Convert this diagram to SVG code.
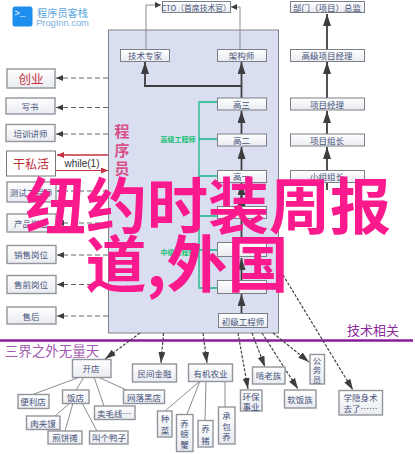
<svg xmlns="http://www.w3.org/2000/svg" width="415" height="454" viewBox="0 0 415 454">
<defs>
<linearGradient id="g" x1="0" y1="0" x2="0" y2="1"><stop offset="0" stop-color="#ffffff"/><stop offset="1" stop-color="#e9ebf0"/></linearGradient>
<marker id="a" markerUnits="userSpaceOnUse" markerWidth="13" markerHeight="9" refX="12" refY="4" orient="auto"><path d="M0 0L12 4L0 8z" fill="#3d3d3f"/></marker>
<marker id="h" markerUnits="userSpaceOnUse" markerWidth="12" markerHeight="8" refX="11" refY="3.500" orient="auto"><path d="M0 0L11 3.500L0 7z" fill="#3d3d3f"/></marker>
<marker id="s" markerUnits="userSpaceOnUse" markerWidth="7" markerHeight="7" refX="6" refY="3" orient="auto"><path d="M0 0L6 3L0 6z" fill="#3d3d3f"/></marker>
<marker id="l" markerUnits="userSpaceOnUse" markerWidth="8" markerHeight="8" refX="7" refY="3" orient="auto"><path d="M0 0L7 3L0 6z" fill="#3d3d3f"/></marker>
<marker id="r" markerUnits="userSpaceOnUse" markerWidth="8" markerHeight="8" refX="7" refY="3" orient="auto"><path d="M0 0L7 3L0 6z" fill="#c4303f"/></marker>
</defs>
<style>
text{font-family:"Noto Sans CJK SC","Liberation Sans",sans-serif;text-anchor:middle;dominant-baseline:central;fill:#47527a;font-size:8.500px}
.n rect{fill:url(#g);stroke:#7c7f86;stroke-width:1}
.b rect{stroke-width:1.400;stroke:#92959c}
.up{stroke:#3d3d3f;stroke-width:1.800;fill:none;marker-end:url(#a)}
.dl{stroke:#666;stroke-width:1;stroke-dasharray:5 3;fill:none;marker-end:url(#l)}
.dd{stroke:#444;stroke-width:1.200;stroke-dasharray:3 1.500;fill:none;marker-end:url(#h)}
.t{stroke:#8b8d90;stroke-width:1;fill:none}
.gr{stroke:#14b888;stroke-width:1.300;fill:none}
.pk{font-size:61px;fill:#fb1a8e;font-weight:700}
.v{fill:#d8508a;font-size:15px;font-weight:700}
.gl{fill:#14c070;font-size:7px;font-weight:700}
</style>
<rect id="panel" x="108.500" y="30" width="170" height="303" fill="#d9dff0" stroke="#80828a"/>
<g id="logo"><rect x="12.500" y="6.500" width="20" height="20" rx="2.500" fill="#1e8fef"/><text x="20" y="14" style="fill:#fff;font-size:9px;font-family:'Liberation Mono',monospace">&gt;_</text><text x="62.500" y="12.500" style="fill:#5aa5e0;font-size:10.200px">程序员客栈</text><text x="62.500" y="22.500" style="fill:#76aede;font-size:9.300px;font-family:'Liberation Sans',sans-serif">ProgInn.com</text></g>
<g id="connectors">
<path class="t" d="M146 49V5H161" marker-end="url(#s)" stroke="#555"/>
<path class="t" d="M240 49V7H231" marker-end="url(#s)"/>
<path class="up" d="M327 49V14"/><path class="up" d="M327 98V62"/><path class="up" d="M327 134V111"/><path class="up" d="M327 170V147"/>
<path class="up" d="M327 190V170"/>
<path class="up" d="M241 86H145V62"/>
<path class="up" d="M241.500 98V62"/><path class="up" d="M241.500 134V111"/><path class="up" d="M241.500 170V147"/>
<path class="up" d="M241.500 206V183"/><path class="up" d="M241.500 242V194"/><path class="up" d="M241.500 280V258"/><path class="up" d="M241.500 313V294"/>
<path class="gr" d="M217 102H199V288H217M199 139H217M199 176H217M199 216H217M199 250H217"/>
<path class="dl" d="M108 78H56"/><path class="dl" d="M108 107.500H56"/><path class="dl" d="M108 134H56"/>
<path d="M108 155H57" stroke="#c4303f" stroke-width="1.500" marker-end="url(#r)"/>
<path d="M56 170.500H108" stroke="#c4303f" stroke-width="1" marker-end="url(#r)"/>
<path class="dl" d="M108 191H57"/><path class="dl" d="M108 223H57"/><path class="dl" d="M108 255H57"/><path class="dl" d="M108 284.500H57"/><path class="dl" d="M108 316H57"/>
<path d="M0 340.500H413" stroke="#8a1c9c" stroke-width="2.400"/>
<path class="dd" d="M140 333L105 359"/><path class="dd" d="M163.500 333L161 363"/><path class="dd" d="M203 333L207 363"/>
<path class="dd" d="M238 333L248 389"/><path class="dd" d="M252 333L265 367"/><path class="dd" d="M262 333L298 389"/><path class="dd" d="M273 333L309 362"/><path class="dd" d="M283 275L353 390"/>
<path class="t" d="M80 377L34 394M84 377L76 390M94 377L104 406M98 377L133 393M70 403L55 416M73 403L65 431M82 403L97 431M200 381L165 411M200 381L187 414M206 381L205 420M225 381V407"/>
</g>
<g id="n1" class="n"><rect x="162.500" y="1.500" width="68" height="11"/><text x="196" y="7" style="font-size:7.800px">CTO（首席技术官）</text></g>
<g id="n2" class="n"><rect x="290.500" y="1.500" width="74" height="11"/><text x="327" y="7">部门（项目）总监</text></g>
<g id="n3" class="n"><rect x="120.500" y="49.500" width="49" height="12"/><text x="145" y="55">技术专家</text></g>
<g id="n4" class="n"><rect x="217.500" y="49.500" width="49" height="12"/><text x="241.500" y="55">架构师</text></g>
<g id="n5" class="n"><rect x="290.500" y="49.500" width="74" height="12"/><text x="327" y="55">高级项目经理</text></g>
<g id="n6" class="n"><rect x="217.500" y="98" width="49" height="12"/><text x="241.500" y="104">高三</text></g>
<g id="n7" class="n"><rect x="290.500" y="98" width="74" height="12"/><text x="327" y="104">项目经理</text></g>
<g id="n8" class="n"><rect x="217.500" y="134" width="49" height="12"/><text x="241.500" y="140">高二</text></g>
<g id="n9" class="n"><rect x="290.500" y="134" width="74" height="12"/><text x="327" y="140">项目组长</text></g>
<g id="n10" class="n"><rect x="217.500" y="170.500" width="49" height="12"/><text x="241.500" y="176">高一</text></g>
<g id="n11" class="n"><rect x="290.500" y="170.500" width="74" height="12"/><text x="327" y="176">小组组长</text></g>
<g id="n12" class="n"><rect x="217.500" y="206.500" width="49" height="12"/></g>
<g id="n13" class="n"><rect x="217.500" y="242.500" width="49" height="14"/></g>
<g id="n14" class="n"><rect x="217.500" y="280.500" width="49" height="13"/></g>
<g id="n15" class="n"><rect x="218.500" y="313.500" width="49" height="14"/><text x="243" y="320.500">初级工程师</text></g>
<g id="n16" class="n b"><rect x="7" y="69" width="48" height="19"/><text x="31" y="78" style="fill:#c83442;font-size:12.500px">创业</text></g>
<g id="n17" class="n b"><rect x="6" y="98" width="49" height="16"/><text x="30" y="106">写书</text></g>
<g id="n18" class="n b"><rect x="6" y="124.500" width="49" height="17"/><text x="30.500" y="132.500">培训讲师</text></g>
<g id="n19" class="n"><rect x="6.500" y="151" width="49" height="25" style="fill:#fff;stroke:#777"/><text x="31" y="163" style="fill:#bb2e3a;font-size:12px">干私活</text></g>
<g id="n20" class="n b"><rect x="7" y="182" width="49" height="20"/><text x="31" y="192">测试工程师</text></g>
<g id="n21" class="n b"><rect x="7" y="214" width="49" height="18"/><text x="31" y="223">产品岗位</text></g>
<g id="n22" class="n b"><rect x="7" y="245.500" width="49" height="18"/><text x="31" y="254">销售岗位</text></g>
<g id="n23" class="n b"><rect x="7" y="275.500" width="49" height="18"/><text x="31" y="284">售前岗位</text></g>
<g id="n24" class="n b"><rect x="7" y="307" width="49" height="17"/><text x="31" y="315.500">售后</text></g>
<g id="n25" class="n b"><rect x="72.500" y="359.500" width="38.500" height="18"/><text x="91" y="367.500">开店</text></g>
<g id="n26" class="n b"><rect x="18" y="394.500" width="31" height="14"/><text x="33" y="401">便利店</text></g>
<g id="n27" class="n b"><rect x="62.500" y="390" width="26.500" height="13.500"/><text x="75.500" y="396.500">饭店</text></g>
<g id="n28" class="n b"><rect x="123.500" y="390" width="41" height="13.500"/><text x="144" y="396.500">网落黑店</text></g>
<g id="n29" class="n b"><rect x="26.500" y="416" width="33.500" height="13.500"/><text x="43" y="422.500">肉夹馍</text></g>
<g id="n30" class="n b"><rect x="94.500" y="406" width="40.500" height="13.500"/><text x="114" y="412.500">卖毛线…</text></g>
<g id="n31" class="n b"><rect x="48" y="431" width="34" height="13"/><text x="65" y="437">煎饼摊</text></g>
<g id="n32" class="n b"><rect x="89.500" y="431" width="38.500" height="13"/><text x="109" y="437">叫个鸭子</text></g>
<g id="n33" class="n b"><rect x="132.500" y="364" width="44" height="18"/><text x="154.500" y="372.500">民间金融</text></g>
<g id="n34" class="n b"><rect x="188.500" y="364" width="44" height="17.500"/><text x="210.500" y="372.500">有机农业</text></g>
<g id="n35" class="n b"><rect x="157.500" y="411" width="14.500" height="26"/><text x="165" y="418">种</text><text x="165" y="430">菜</text></g>
<g id="n36" class="n b"><rect x="176.500" y="414.500" width="16.500" height="37"/><text x="184.500" y="423">养</text><text x="184.500" y="433">螃</text><text x="184.500" y="443.500">蟹</text></g>
<g id="n37" class="n b"><rect x="198" y="420.500" width="15" height="26.500"/><text x="205.500" y="428">养</text><text x="205.500" y="440">猪</text></g>
<g id="n38" class="n b"><rect x="218.500" y="407" width="16.500" height="37"/><text x="226.500" y="414.500">承</text><text x="226.500" y="425.500">包</text><text x="226.500" y="436">养</text></g>
<g id="n39" class="n b"><rect x="240.500" y="390" width="21.500" height="21"/><text x="251" y="395.500">环保</text><text x="251" y="405.500">事业</text></g>
<g id="n40" class="n b"><rect x="252.500" y="367" width="32.500" height="17"/><text x="268.500" y="375">啃老族</text></g>
<g id="n41" class="n b"><rect x="284.500" y="390" width="31.500" height="18"/><text x="300" y="399">软饭族</text></g>
<g id="n42" class="n b"><rect x="310" y="354.500" width="14.500" height="29.500"/><text x="317" y="359.500">公</text><text x="317" y="369">务</text><text x="317" y="379">员</text></g>
<g id="n43" class="n b"><rect x="339" y="390.500" width="43.500" height="24.500"/><text x="360.500" y="397">学隐身术</text><text x="360.500" y="408">去了……</text></g>
<g id="labels">
<text x="82" y="163" style="font-family:'Liberation Sans',sans-serif;font-size:10px;fill:#333">while(1)</text>
<text class="v" x="122" y="130.500">程</text><text class="v" x="122" y="149">序</text><text class="v" x="122" y="167">员</text>
<text class="gl" x="178" y="138.500">高级工程师</text>
<text class="gl" x="178" y="252">中级工程师</text>
<text x="373" y="329" style="fill:#8a2a9c;font-size:13px">技术相关</text>
<text x="52" y="349.500" style="fill:#a35ab0;font-size:13.500px">三界之外无量天</text>
</g>
<g id="headline"><text class="pk" x="208" y="202">纽约时装周报</text><text class="pk" x="187" y="260">道,外国</text></g>
</svg>
